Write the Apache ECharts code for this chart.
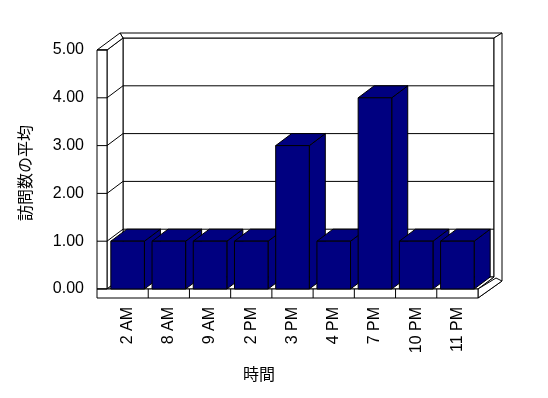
<!DOCTYPE html>
<html>
<head>
<meta charset="utf-8">
<script src="https://cdn.jsdelivr.net/npm/echarts@6/dist/echarts.min.js"></script>
<style>html,body{margin:0;padding:0;background:#fff}#c{width:548px;height:398px}</style>
</head>
<body>
<div id="c"></div>
<script>
var categories = ['2 AM', '8 AM', '9 AM', '2 PM', '3 PM', '4 PM', '7 PM', '10 PM', '11 PM'];
var values = [1, 1, 1, 1, 3, 1, 4, 1, 1];
var yTicks = [0, 1, 2, 3, 4, 5];
var xTitle = '時間';
var yTitle = '訪問数の平均';

var DX = 16, DY = -12;       // depth offset of the 3D view
var WALL = 10, FLOOR = 9;    // wall / floor thickness
var LINE = {stroke: '#000', lineWidth: 1};

function wallsRender(params, api) {
  var cs = params.coordSys;
  var x0 = cs.x, x1 = cs.x + cs.width, yT = cs.y, yB = cs.y + cs.height;
  var bw = api.size([1, 0])[0];
  var ch = [];
  function poly(pts) { ch.push({type: 'polygon', shape: {points: pts}, style: {fill: '#fff', stroke: '#000', lineWidth: 1}}); }
  function line(a, b) { ch.push({type: 'line', shape: {x1: a[0], y1: a[1], x2: b[0], y2: b[1]}, style: LINE}); }
  // back wall face
  poly([[x0 + DX, yT + DY], [x1 + DX, yT + DY], [x1 + DX, yB + DY], [x0 + DX, yB + DY]]);
  // back wall top
  poly([[x0 - WALL + 23, yT - 17], [x1 + 24, yT - 17], [x1 + DX, yT + DY], [x0 + DX, yT + DY]]);
  // back wall right side
  poly([[x1 + DX, yT + DY], [x1 + 24, yT - 17], [x1 + 24, yB - 8], [x1, yB + FLOOR], [x1, yB], [x1 + DX, yB + DY]]);
  // left wall inner face
  poly([[x0, yT], [x0 + DX, yT + DY], [x0 + DX, yB + DY], [x0, yB]]);
  // left wall top
  poly([[x0 - WALL, yT], [x0, yT], [x0 + DX, yT + DY], [x0 - WALL + 23, yT - 17]]);
  // floor top
  poly([[x0, yB], [x1, yB], [x1 + DX, yB + DY], [x0 + DX, yB + DY]]);
  // floor right side
  poly([[x1, yB], [x1 + 18, yB - 11], [x1 + 24, yB - 8], [x1, yB + FLOOR]]);
  // left wall front face
  poly([[x0 - WALL, yT], [x0, yT], [x0, yB], [x0 - WALL, yB]]);
  // floor front face
  poly([[x0 - WALL, yB], [x1, yB], [x1, yB + FLOOR], [x0 - WALL, yB + FLOOR]]);
  // gridlines
  yTicks.forEach(function (v) {
    var y = api.coord([0, v])[1];
    if (v > 0 && v < 5) {
      line([x0, y], [x0 + DX, y + DY]);
      line([x0 + DX, y + DY], [x1 + DX, y + DY]);
    }
    line([x0 - WALL, y], [x0, y]);
  });
  for (var k = 1; k < categories.length; k++) {
    var xx = x0 + k * bw;
    line([xx, yB], [xx, yB + FLOOR]);
  }
  return {type: 'group', children: ch};
}

function barRender(params, api) {
  var cat = api.value(0), v = api.value(1);
  var top = api.coord([cat, v]);
  var base = api.coord([cat, 0]);
  var bw = api.size([1, 0])[0] * 0.815;
  var xl = top[0] - bw / 2, xr = top[0] + bw / 2, yt = top[1], yb = base[1];
  var st = {fill: '#000080', stroke: '#000', lineWidth: 1};
  return {type: 'group', children: [
    {type: 'polygon', shape: {points: [[xr, yt], [xr + DX, yt + DY], [xr + DX, yb + DY], [xr, yb]]}, style: st},
    {type: 'polygon', shape: {points: [[xl, yt], [xr, yt], [xr + DX, yt + DY], [xl + DX, yt + DY]]}, style: st},
    {type: 'rect', shape: {x: xl, y: yt, width: bw, height: yb - yt}, style: st}
  ]};
}

var chart = echarts.init(document.getElementById('c'), null, {renderer: 'canvas'});
chart.setOption({
  backgroundColor: '#fff',
  animation: false,
  grid: {left: 107, right: 70, top: 50, bottom: 109},
  xAxis: {
    type: 'category', data: categories,
    axisLine: {show: false}, axisTick: {show: false},
    axisLabel: {interval: 0, rotate: 90, margin: 18, color: '#000', fontSize: 16, fontFamily: 'Liberation Sans, Arial, sans-serif'}
  },
  yAxis: {
    type: 'value', min: 0, max: 5, interval: 1,
    axisLine: {show: false}, axisTick: {show: false}, splitLine: {show: false},
    axisLabel: {margin: 23, color: '#000', fontSize: 16, fontFamily: 'Liberation Sans, Arial, sans-serif',
      formatter: function (v) { return v.toFixed(2); }}
  },
  graphic: [
    {type: 'text', left: 243, top: 366, style: {text: xTitle, fill: '#000', font: '16px "Noto Sans CJK JP"'}},
    {type: 'text', x: 17, y: 221, rotation: Math.PI / 2, style: {text: yTitle, fill: '#000', font: '16px "Noto Sans CJK JP"'}}
  ],
  series: [
    {type: 'custom', z: 1, clip: false, renderItem: wallsRender, data: [[0, 0]], silent: true},
    {type: 'custom', z: 2, clip: false, renderItem: barRender,
      data: values.map(function (v, i) { return [i, v]; })}
  ]
});
</script>
</body>
</html>
